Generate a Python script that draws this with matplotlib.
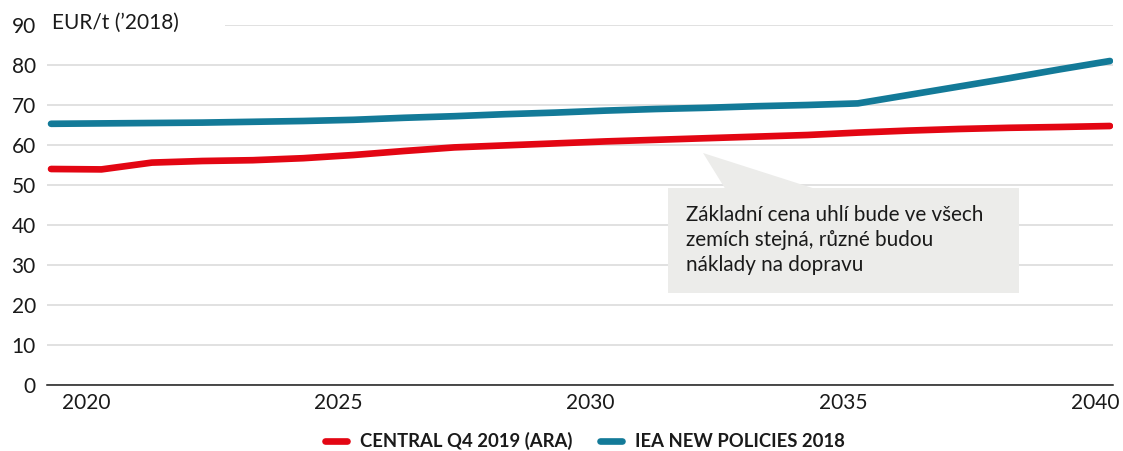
import matplotlib.pyplot as plt
from matplotlib.patches import Polygon, Rectangle
from matplotlib.transforms import ScaledTranslation, blended_transform_factory

plt.rcParams['font.family'] = ['Lato', 'DejaVu Sans']

years = list(range(2019, 2041))
central = [54.0, 53.9, 55.6, 56.0, 56.2, 56.7, 57.5, 58.5, 59.4, 59.9, 60.4,
           60.9, 61.3, 61.7, 62.1, 62.5, 63.1, 63.6, 64.0, 64.3, 64.5, 64.75]
iea = [65.3, 65.4, 65.5, 65.6, 65.8, 66.0, 66.3, 66.8, 67.2, 67.7, 68.1,
       68.6, 69.0, 69.3, 69.7, 70.0, 70.4, 72.5, 74.6, 76.7, 78.9, 81.0]
series_labels = ['CENTRAL Q4 2019 (ARA)', 'IEA NEW POLICIES 2018']
xticks = [2020, 2025, 2030, 2035, 2040]
yticks = list(range(0, 100, 10))
unit_label = 'EUR/t (\u20192018)'
note = 'Základní cena uhlí bude ve všech\nzemích stejná, různé budou\nnáklady na dopravu'

red = '#e30613'
blue = '#137a98'
grey_box = '#ececea'

fig = plt.figure(figsize=(11.23, 4.51), dpi=100)
ax = fig.add_axes([47 / 1123, 66 / 451, 1066 / 1123, 360 / 451])

ax.plot(years, central, color=red, lw=4.8, solid_capstyle='round',
        solid_joinstyle='round', label=series_labels[0], zorder=4)
ax.plot(years, iea, color=blue, lw=4.8, solid_capstyle='round',
        solid_joinstyle='round', label=series_labels[1], zorder=4)

ax.set_xlim(2018.92, 2040.06)
ax.set_ylim(0, 90)
ax.set_yticks(yticks)
ax.set_xticks(xticks)
ax.set_xticklabels([str(x) for x in xticks])
ax.grid(axis='y', color='#d9d9d9', lw=1.1, zorder=0)
ax.set_axisbelow(True)
for s in ['top', 'right', 'left']:
    ax.spines[s].set_visible(False)
ax.spines['bottom'].set_color('#1a1a1a')
ax.spines['bottom'].set_linewidth(1.1)
ax.tick_params(axis='both', length=0, labelsize=15, colors='#1a1a1a')
ax.tick_params(axis='y', pad=8)
ax.tick_params(axis='x', pad=6)
shift = ScaledTranslation(-15 / 100, 0, fig.dpi_scale_trans)
for lab in ax.get_xticklabels():
    lab.set_transform(lab.get_transform() + shift)

# white patch hiding the top gridline behind the unit label
bt = blended_transform_factory(ax.transAxes, ax.transData)
ax.add_patch(Rectangle((0, 87), 178 / 1066, 6, transform=bt, facecolor='white',
                       edgecolor='none', zorder=1, clip_on=False))
ax.text(5 / 1066, 90.5, unit_label, transform=bt, fontsize=15, va='center',
        ha='left', color='#1a1a1a', zorder=2)

# callout box
ax.add_patch(Rectangle((2031.24, 23.0), 6.96, 26.25, facecolor=grey_box,
                       edgecolor='none', zorder=2))
ax.add_patch(Polygon([(2031.93, 58.0), (2032.36, 49.25), (2034.1, 49.25)],
                     closed=True, facecolor=grey_box, edgecolor='none', zorder=2))
ax.text(2031.6, 36.2, note, fontsize=14.9, va='center', ha='left',
        color='#1a1a1a', linespacing=1.33, zorder=3)

leg = fig.legend(loc='center', bbox_to_anchor=(585 / 1123, 10 / 451), ncol=2,
                 frameon=False, handlelength=1.2, handletextpad=0.7,
                 columnspacing=1.5, prop={'weight': 'bold', 'size': 13.3})
for t in leg.get_texts():
    t.set_color('#1a1a1a')

fig.savefig('out.png', dpi=100)
